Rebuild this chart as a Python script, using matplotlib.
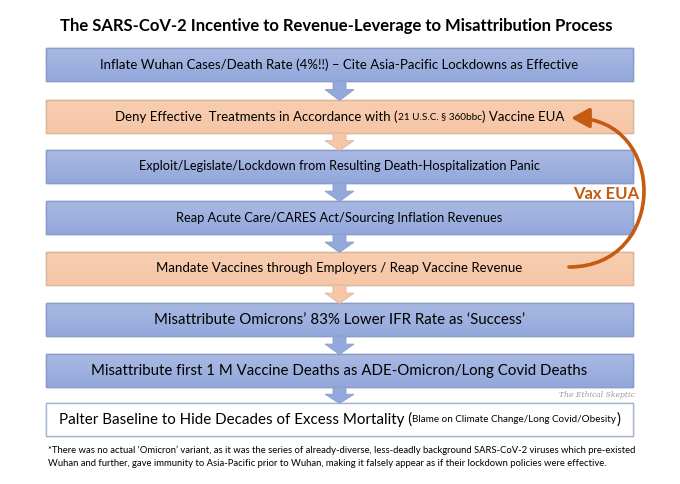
import numpy as np
import matplotlib.pyplot as plt
from matplotlib.patches import Rectangle, Polygon, FancyArrowPatch
from matplotlib.path import Path
from matplotlib.colors import LinearSegmentedColormap

plt.rcParams['font.family'] = ['Lato', 'DejaVu Sans']

title = "The SARS-CoV-2 Incentive to Revenue-Leverage to Misattribution Process"

# each step is a list of (text, fontsize) pieces
steps = [
    [("Inflate Wuhan Cases/Death Rate (4%!!) \u2013 Cite Asia-Pacific Lockdowns as Effective", 9.5)],
    [("Deny Effective  Treatments in Accordance with (", 9.5), ("21 U.S.C. \u00a7 360bbc", 7.2), (") Vaccine EUA", 9.5)],
    [("Exploit/Legislate/Lockdown from Resulting Death-Hospitalization Panic", 9.2)],
    [("Reap Acute Care/CARES Act/Sourcing Inflation Revenues", 9.3)],
    [("Mandate Vaccines through Employers / Reap Vaccine Revenue", 9.5)],
    [("Misattribute Omicrons\u2019 83% Lower IFR Rate as \u2018Success\u2019", 10.8)],
    [("Misattribute first 1 M Vaccine Deaths as ADE-Omicron/Long Covid Deaths", 10.8)],
    [("Palter Baseline to Hide Decades of Excess Mortality (", 10.9), ("Blame on Climate Change/Long Covid/Obesity", 7.1), (")", 10.9)],
]
step_kind = ["blue", "orange", "blue", "blue", "orange", "blue", "blue", "white"]
box_tops = [48, 100, 150, 201, 252, 303, 354, 403]

fills = {"blue": "#9DB0E0", "orange": "#F8CBAD", "white": "#FFFFFF"}
grad = {"blue": ("#A9B9E3", "#93A8DB"), "orange": ("#F8CDB0", "#F6C6A6"), "white": ("#FFFFFF", "#FFFFFF")}
edges = {"blue": "#8A9CC8", "orange": "#D9B79E", "white": "#A6B4D6"}

footnote = ("*There was no actual \u2018Omicron\u2019 variant, as it was the series of already-diverse, less-deadly background SARS-CoV-2 viruses which pre-existed\n"
            "Wuhan and further, gave immunity to Asia-Pacific prior to Wuhan, making it falsely appear as if their lockdown policies were effective.")

loop_label = "Vax EUA"
watermark = "The Ethical Skeptic"

W, H = 680, 484
fig = plt.figure(figsize=(6.8, 4.84), dpi=100)
ax = fig.add_axes([0, 0, 1, 1])
ax.set_xlim(0, W)
ax.set_ylim(H, 0)
ax.axis('off')

box_x, box_w, box_h = 46, 587, 33
cx = box_x + box_w / 2

ax.text(cx - 3, 26, title, ha='center', va='center', fontsize=12.0, fontweight='bold', color='black')

renderer = fig.canvas.get_renderer()


def draw_pieces(pieces, xc, yc):
    # place text pieces side by side, centred as a group
    objs = []
    for txt, fs in pieces:
        objs.append(ax.text(0, yc, txt, ha='left', va='center', fontsize=fs, color='black', zorder=5))
    widths = []
    inv = ax.transData.inverted()
    for t in objs:
        bb = t.get_window_extent(renderer)
        p0 = inv.transform((bb.x0, bb.y0))
        p1 = inv.transform((bb.x1, bb.y0))
        widths.append(p1[0] - p0[0])
    x = xc - sum(widths) / 2
    for t, w in zip(objs, widths):
        t.set_x(x)
        x += w


for i, (pieces, kind, top) in enumerate(zip(steps, step_kind, box_tops)):
    rect = Rectangle((box_x, top), box_w, box_h, facecolor=fills[kind],
                     edgecolor=edges[kind], linewidth=1, zorder=2)
    ax.add_patch(rect)
    cmap = LinearSegmentedColormap.from_list(kind, grad[kind])
    im = ax.imshow(np.linspace(0, 1, 50).reshape(-1, 1), cmap=cmap, aspect='auto',
                   extent=(box_x, box_x + box_w, top + box_h, top), zorder=2.1)
    im.set_clip_path(rect)
    ax.add_patch(Rectangle((box_x, top), box_w, box_h, facecolor='none',
                           edgecolor=edges[kind], linewidth=1, zorder=2.2))
    draw_pieces(pieces, cx, top + box_h / 2)
    if i < len(steps) - 1:
        y0 = top + box_h
        y1 = box_tops[i + 1]
        mid = y0 + (y1 - y0) * 0.45
        sw, hw = 6.5, 14.5
        arrow = Polygon([(cx - sw, y0), (cx + sw, y0), (cx + sw, mid), (cx + hw, mid),
                         (cx, y1 + 0.5), (cx - hw, mid), (cx - sw, mid)], closed=True,
                        facecolor=grad[kind][1], edgecolor=edges[kind], linewidth=0.6, zorder=3)
        ax.add_patch(arrow)

ax.set_xlim(0, W)
ax.set_ylim(H, 0)

loop_path = Path([(569, 267), (668, 267), (668, 118), (571, 118)],
                 [Path.MOVETO, Path.CURVE4, Path.CURVE4, Path.CURVE4])
loop = FancyArrowPatch(path=loop_path, arrowstyle="-|>,head_length=11,head_width=6",
                       color="#C55A11", linewidth=2.6, zorder=4)
ax.add_patch(loop)
ax.text(606, 194, loop_label, ha='center', va='center', fontsize=12, fontweight='bold', color="#C55A11")

ax.text(597, 395, watermark, ha='center', va='center', fontsize=5.5, style='italic',
        family='DejaVu Serif', color='#9A9A9A')

ax.text(48, 457, footnote, ha='left', va='center', fontsize=6.8, color='black', linespacing=1.55)

fig.savefig("out.png", dpi=100)
